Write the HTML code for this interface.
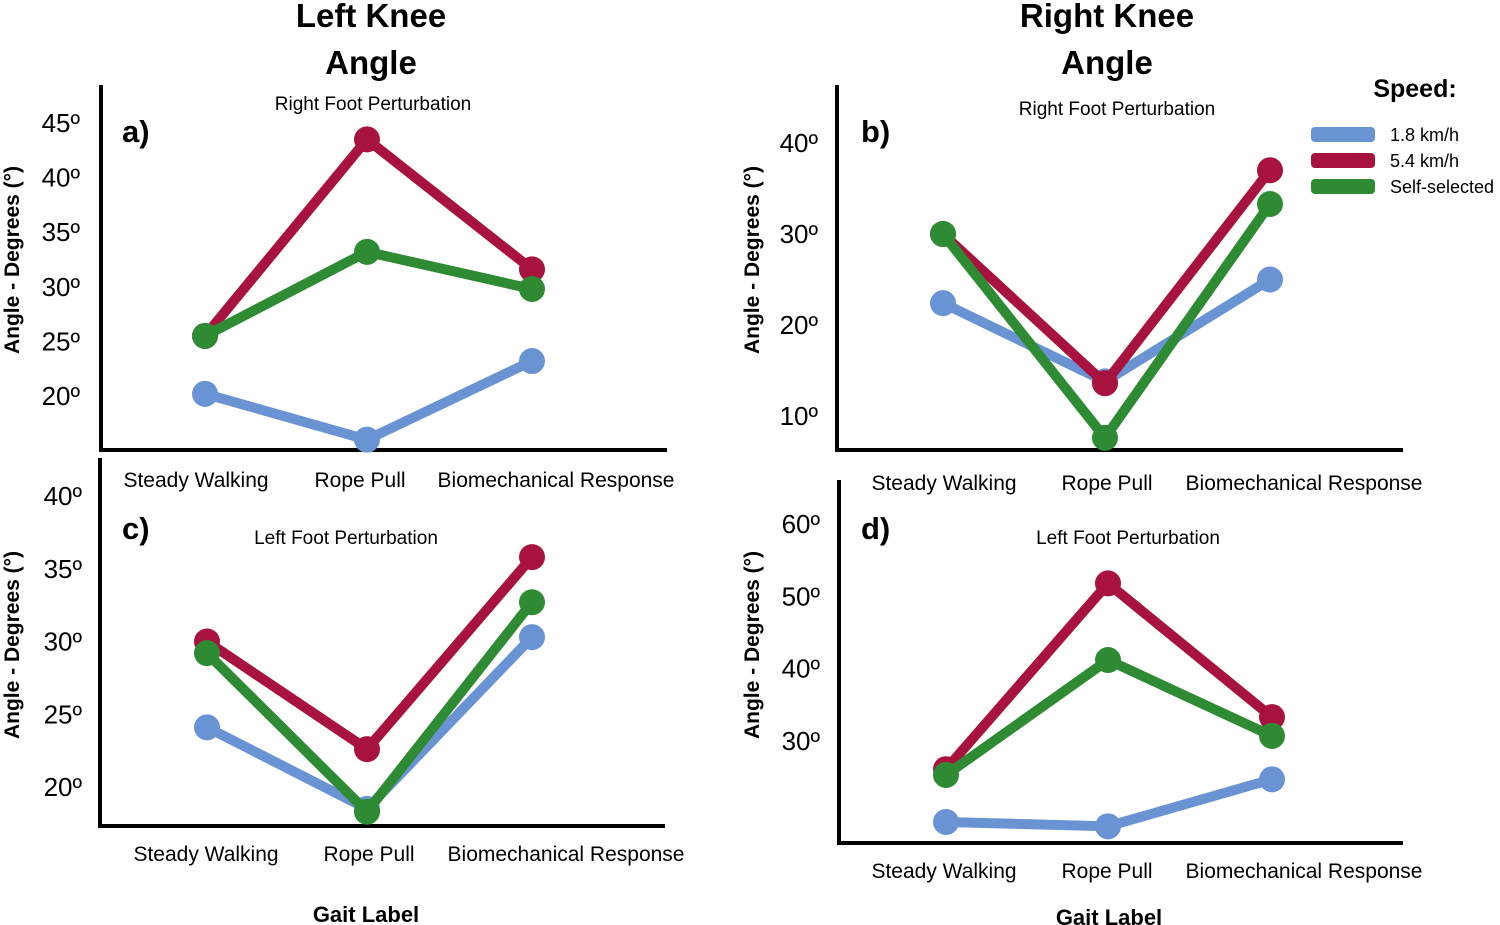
<!DOCTYPE html>
<html><head><meta charset="utf-8"><style>
html,body{margin:0;padding:0;background:#fff;}
svg{display:block;font-family:"Liberation Sans",sans-serif;}
</style></head><body>
<svg id="chart" width="1500" height="925" viewBox="0 0 1500 925" xmlns="http://www.w3.org/2000/svg">
<g font-weight="bold" font-size="33" text-anchor="middle">
<text x="371" y="27">Left Knee</text>
<text x="371" y="74">Angle</text>
<text x="1107" y="27">Right Knee</text>
<text x="1107" y="74">Angle</text>
<text x="366" y="922" font-size="22">Gait Label</text>
<text x="1109" y="925" font-size="22">Gait Label</text>
</g>
<g>
<text x="1415" y="97" font-size="25" font-weight="bold" text-anchor="middle">Speed:</text>
<rect x="1311" y="127" width="64" height="15" rx="4" fill="#6a93d4"/>
<text x="1390" y="141" font-size="18">1.8 km/h</text>
<rect x="1311" y="153" width="64" height="15" rx="4" fill="#a8123e"/>
<text x="1390" y="167" font-size="18">5.4 km/h</text>
<rect x="1311" y="179" width="64" height="15" rx="4" fill="#2e8b34"/>
<text x="1390" y="193" font-size="18">Self-selected</text>
</g>
<g id="panels"></g>
</svg>
<script>
const categories = ["Steady Walking", "Rope Pull", "Biomechanical Response"];
const seriesNames = ["1.8 km/h", "5.4 km/h", "Self-selected"];
const colors = ["#6a93d4", "#a8123e", "#2e8b34"];
// panel a: left knee, right foot perturbation
const aSlow = [20.2, 16.0, 23.2];
const aFast = [25.5, 43.5, 31.6];
const aSelf = [25.5, 33.2, 29.8];
const aTicks = [20, 25, 30, 35, 40, 45];
// panel b: right knee, right foot perturbation
const bSlow = [22.4, 13.8, 25.0];
const bFast = [30.0, 13.6, 37.0];
const bSelf = [30.0, 7.6, 33.3];
const bTicks = [10, 20, 30, 40];
// panel c: left knee, left foot perturbation
const cSlow = [24.1, 18.5, 30.3];
const cFast = [30.0, 22.6, 35.8];
const cSelf = [29.2, 18.3, 32.7];
const cTicks = [20, 25, 30, 35, 40];
// panel d: right knee, left foot perturbation
const dSlow = [18.8, 18.2, 24.7];
const dFast = [26.1, 51.8, 33.3];
const dSelf = [25.3, 41.2, 30.7];
const dTicks = [30, 40, 50, 60];

const NS = "http://www.w3.org/2000/svg";
const root = document.getElementById("panels");
function mk(tag, attrs, parent, text) {
  const e = document.createElementNS(NS, tag);
  for (const k in attrs) e.setAttribute(k, attrs[k]);
  if (text !== undefined) e.textContent = text;
  parent.appendChild(e);
  return e;
}
function panel(cfg) {
  const g = mk("g", {}, root);
  
  
  const y = v => cfg.y0 - (v - cfg.v0) * cfg.k;
  const x = i => cfg.xs[i];
  const ax = mk("path", {d: `M${cfg.ax} ${cfg.top} V${cfg.ay} H${cfg.axEnd}`, stroke: "#000", "stroke-width": 4, fill: "none"}, g);
  
  
  cfg.ticks.forEach(t => {
    const tl = mk("text", {x: cfg.tickX, y: y(t) + 9, "font-size": 26, "text-anchor": "end"}, g, t + "º");
    
    
  });
  categories.forEach((c, i) => {
    const cl = mk("text", {x: cfg.catX[i], y: cfg.catY, "font-size": 21, "text-anchor": "middle"}, g, c);
    
    
  });
  const yt = mk("text", {transform: `translate(${cfg.ytX},${cfg.ytY}) rotate(-90)`, "font-size": 21, "font-weight": "bold", "text-anchor": "middle"}, g, "Angle - Degrees (°)");
  
  
  const pl = mk("text", {x: cfg.plX, y: cfg.plY, "font-size": 31, "font-weight": "bold"}, g, cfg.id + ")");
  
  
  const st = mk("text", {x: cfg.stX, y: cfg.stY, "font-size": 19, "text-anchor": "middle"}, g, cfg.sub);
  
  
  cfg.series.forEach((s, si) => {
    const pts = s.map((v, i) => x(i) + "," + y(v)).join(" ");
    const line = mk("polyline", {points: pts, fill: "none", stroke: colors[si], "stroke-width": 10, "stroke-linejoin": "round"}, g);
    
    
    s.forEach((v, i) => {
      const c = mk("circle", {cx: x(i), cy: y(v), r: 13, fill: colors[si]}, g);
      
      
    });
  });
}
panel({id: "a", series: [aSlow, aFast, aSelf], ticks: aTicks, v0: 20, y0: 396, k: 10.92,
  xs: [205, 367, 532], ax: 101, top: 85, ay: 450, axEnd: 667, tickX: 80,
  catX: [196, 360, 556], catY: 487, ytX: 19, ytY: 260, plX: 122, plY: 142, stX: 373, stY: 110, sub: "Right Foot Perturbation"});
panel({id: "b", series: [bSlow, bFast, bSelf], ticks: bTicks, v0: 10, y0: 416, k: 9.1,
  xs: [943, 1105, 1270], ax: 837, top: 85, ay: 450, axEnd: 1403, tickX: 818,
  catX: [944, 1107, 1304], catY: 490, ytX: 759, ytY: 260, plX: 861, plY: 142, stX: 1117, stY: 115, sub: "Right Foot Perturbation"});
panel({id: "c", series: [cSlow, cFast, cSelf], ticks: cTicks, v0: 20, y0: 787, k: 14.55,
  xs: [207, 367, 532], ax: 100, top: 458, ay: 826, axEnd: 665, tickX: 82,
  catX: [206, 369, 566], catY: 861, ytX: 19, ytY: 645, plX: 122, plY: 539, stX: 346, stY: 544, sub: "Left Foot Perturbation"});
panel({id: "d", series: [dSlow, dFast, dSelf], ticks: dTicks, v0: 30, y0: 741, k: 7.23,
  xs: [946, 1108, 1272], ax: 839, top: 480, ay: 843, axEnd: 1403, tickX: 820,
  catX: [944, 1107, 1304], catY: 878, ytX: 759, ytY: 645, plX: 861, plY: 539, stX: 1128, stY: 544, sub: "Left Foot Perturbation"});
</script>
</body></html>
